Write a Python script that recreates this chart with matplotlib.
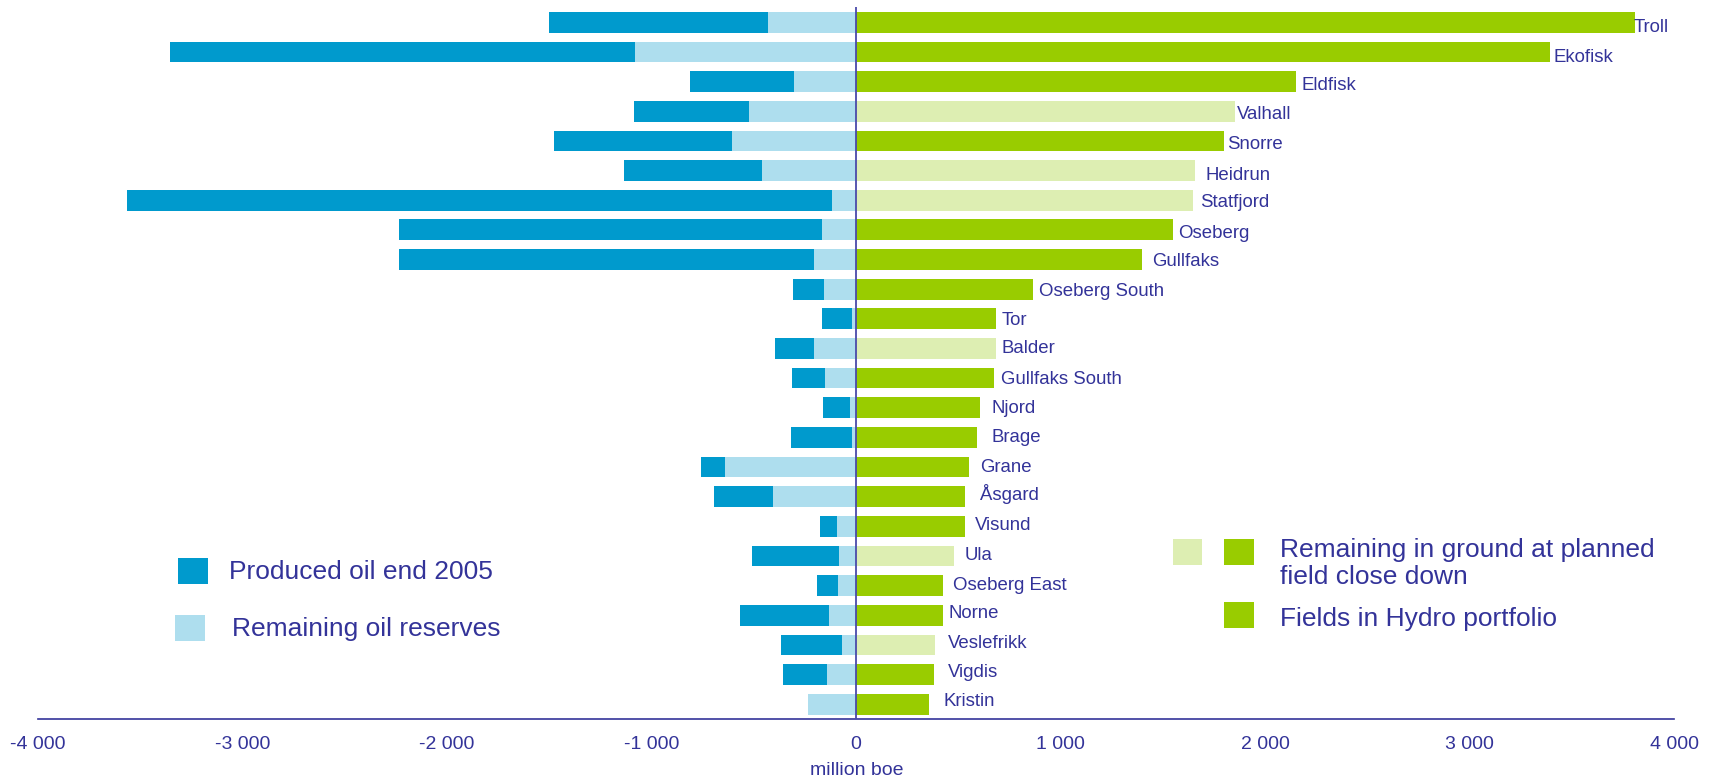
import matplotlib
matplotlib.use("Agg")
import matplotlib.pyplot as plt
from matplotlib.patches import Rectangle

plt.rcParams["font.family"] = ["Liberation Sans", "DejaVu Sans"]

# Oil fields on the Norwegian shelf, million boe
fields = ["Troll", "Ekofisk", "Eldfisk", "Valhall", "Snorre", "Heidrun", "Statfjord",
          "Oseberg", "Gullfaks", "Oseberg South", "Tor", "Balder", "Gullfaks South",
          "Njord", "Brage", "Grane", "Åsgard", "Visund", "Ula", "Oseberg East",
          "Norne", "Veslefrikk", "Vigdis", "Kristin"]
produced = [1072, 2273, 508, 565, 871, 676, 3447, 2070, 2030, 152, 147, 191, 162,
            132, 299, 117, 289, 84, 425, 103, 436, 298, 215, 0]
reserves = [430, 1080, 303, 522, 606, 459, 117, 165, 204, 156, 18, 204, 150,
            28, 18, 639, 404, 91, 82, 87, 130, 67, 141, 233]
remaining_at_closedown = [3810, 3395, 2150, 1853, 1800, 1658, 1648, 1550, 1400, 867,
                          686, 686, 676, 608, 593, 554, 534, 534, 481, 427, 427,
                          388, 383, 358]
in_hydro_portfolio = [True, True, True, False, True, False, False, True, True, True,
                      True, False, True, True, True, True, True, True, False, True,
                      True, False, True, True]
tick_values = [-4000, -3000, -2000, -1000, 0, 1000, 2000, 3000, 4000]

# placement of each field name relative to its bar end (pixels)
label_gap_px = [-2, 3, 6, 2, 3, 10, 7, 5, 10, 6, 5, 5, 7, 11, 14, 11, 15, 10, 10,
                10, 5, 13, 14, 14]
label_drop_px = [10, 10, 8, 8, 8, 9, 7, 8, 6, 7, 6, 5, 6, 5, 5, 5, 3, 4, 4, 4,
                 3, 3, 2, 2]

DARK_BLUE = "#009acd"
LIGHT_BLUE = "#aedeee"
GREEN = "#99cc00"
LIGHT_GREEN = "#ddeeb2"
TEXT = "#333399"

W, H = 1717, 779
fig = plt.figure(figsize=(W / 100, H / 100), dpi=100)


def fx(x):
    return x / W


def fy(y):
    return 1 - y / H


ax = fig.add_axes([fx(38), fy(719), fx(1674) - fx(38), fy(6.7) - fy(719)])

rows = list(range(len(fields)))
neg_reserves = [-r for r in reserves]
neg_produced = [-p for p in produced]
green_colors = [GREEN if h else LIGHT_GREEN for h in in_hydro_portfolio]

ax.barh(rows, neg_reserves, height=0.70, color=LIGHT_BLUE, linewidth=0)
ax.barh(rows, neg_produced, left=neg_reserves, height=0.70, color=DARK_BLUE, linewidth=0)
ax.barh(rows, remaining_at_closedown, height=0.70, color=green_colors, linewidth=0)

ax.axvline(0, color="#4a4aaa", lw=1.3, zorder=4)

for i, name in enumerate(fields):
    ax.annotate(name, xy=(remaining_at_closedown[i], i),
                xytext=(label_gap_px[i], -label_drop_px[i]), textcoords="offset pixels",
                ha="left", va="baseline", fontsize=13.4, color=TEXT,
                annotation_clip=False)

ax.set_xlim(-4000, 4000)
ax.set_ylim(23.496, -0.526)
ax.set_yticks([])
ax.set_xticks(tick_values)
ax.set_xticklabels([f"{v:,}".replace(",", " ") for v in tick_values])
ax.tick_params(axis="x", length=0, pad=12.5, labelsize=14, labelcolor=TEXT)
for side in ("top", "left", "right"):
    ax.spines[side].set_visible(False)
ax.spines["bottom"].set_color(TEXT)
ax.spines["bottom"].set_linewidth(1.2)

fig.text(fx(857), fy(775), "million boe", ha="center", va="baseline",
         fontsize=14, color=TEXT)


def legend_box(x0, y0, x1, y1, color):
    fig.patches.append(Rectangle((fx(x0), fy(y1)), fx(x1) - fx(x0), fy(y0) - fy(y1),
                                 transform=fig.transFigure, facecolor=color,
                                 edgecolor="none"))


# left legend
legend_box(178, 558, 208, 584, DARK_BLUE)
fig.text(fx(229), fy(579.3), "Produced oil end 2005", ha="left", va="baseline",
         fontsize=19, color=TEXT)
legend_box(175, 615, 205, 641, LIGHT_BLUE)
fig.text(fx(231.7), fy(636), "Remaining oil reserves", ha="left", va="baseline",
         fontsize=19, color=TEXT)

# right legend
legend_box(1173, 539, 1202, 565, LIGHT_GREEN)
legend_box(1224, 539, 1254, 565, GREEN)
fig.text(fx(1280), fy(557), "Remaining in ground at planned", ha="left",
         va="baseline", fontsize=19, color=TEXT)
fig.text(fx(1280), fy(584.5), "field close down", ha="left",
         va="baseline", fontsize=19, color=TEXT)
legend_box(1224, 602, 1254, 628, GREEN)
fig.text(fx(1280), fy(626), "Fields in Hydro portfolio", ha="left",
         va="baseline", fontsize=19, color=TEXT)

fig.savefig("out.png", dpi=100, facecolor="white")
